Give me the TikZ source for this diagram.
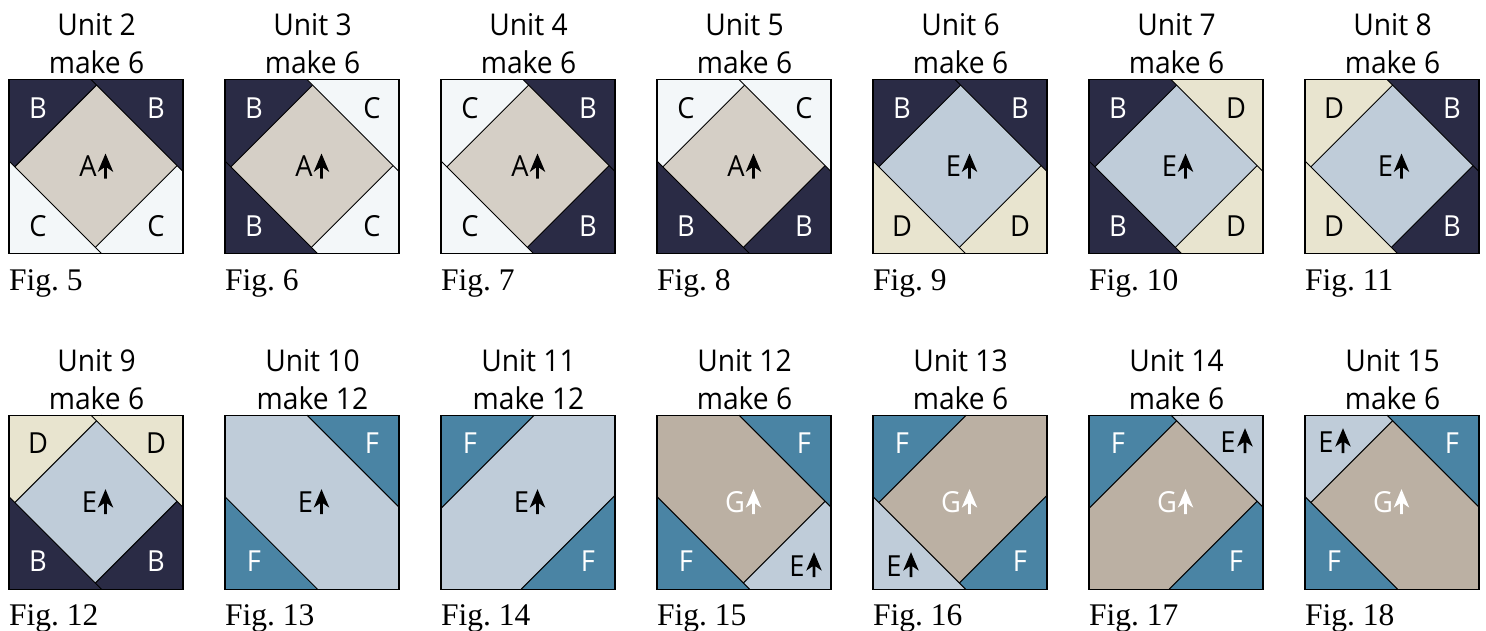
\documentclass[tikz,border=0pt]{standalone}
\usepackage{fontspec}
\setmainfont{Open Sans}[FakeStretch=0.94]
\newfontfamily\figfont{Liberation Serif}
\frenchspacing
\definecolor{cB}{HTML}{2A2B45}
\definecolor{cA}{HTML}{D5CFC6}
\definecolor{cC}{HTML}{F3F7F9}
\definecolor{cD}{HTML}{E8E4CF}
\definecolor{cE}{HTML}{BFCCD9}
\definecolor{cF}{HTML}{4A84A4}
\definecolor{cG}{HTML}{BBB0A3}
\tikzset{
  seam/.style={black,line width=1pt},
  border/.style={black,line width=1.4pt},
  title/.style={anchor=base,inner sep=0pt,font=\frenchspacing\fontsize{30}{30}\selectfont,text=black},
  figlabel/.style={anchor=base west,inner sep=0pt,font=\frenchspacing\figfont\fontsize{31.5}{31.5}\selectfont,text=black},
  patch/.style={anchor=base,inner sep=0pt,font=\fontsize{29}{29}\selectfont}
}
\newcount\labn
\newcommand\lab[4]{\global\advance\labn by 1
  \node[patch,text=#3] (l\the\labn) at (#1,#2+10.5) {#4};}
\newcommand\arr[3]{%
  \fill[#3] (#1,#2) -- (#1+7.8,#2+18.5) -- (#1+1.3,#2+14) -- (#1+1.3,#2+25) -- (#1-1.3,#2+25) -- (#1-1.3,#2+14) -- (#1-7.8,#2+18.5) -- cycle;}
\newcommand\pTL[1]{\fill[#1] (0,0)--(93.2,0)--(0,93.2)--cycle; \draw[seam] (93.2,0)--(0,93.2);}
\newcommand\pBR[1]{\fill[#1] (174,80.2)--(174,174)--(80.2,174)--cycle; \draw[seam] (174,80.2)--(80.2,174);}
\newcommand\pTR[1]{\fill[#1] (82,0)--(174,0)--(174,92)--cycle; \draw[seam] (82,0)--(174,92);}
\newcommand\pBL[1]{\fill[#1] (0,81.5)--(0,174)--(92.5,174)--cycle; \draw[seam] (0,81.5)--(92.5,174);}
% centre label + arrow
\newcommand\ctr[3]{\lab{#1}{86.5}{#3}{#2}\arr{96.5}{74}{#3}}
% corner labels with letter
\newcommand\corn[4]{\lab{#1}{#2}{#3}{#4}}
% corner label E with arrow: x of letter, y
\newcommand\cornE[2]{\lab{#1}{#2}{black}{E}\arr{#1+17}{#2-14}{black}}
\newcommand\qunit[7]{%
  \begin{scope}[shift={(#1,#2)}]
    \fill[#6] (0,0) rectangle (174,174);
    #7
    \draw[border] (0,0) rectangle (174,174);
    \node[title] (u#3a) at (87.5,-44) {Unit #3};
    \node[title] (u#3b) at (87.5,-6) {make #4};
    \node[figlabel] (u#3c) at (0,210.5) {Fig. #5};
  \end{scope}}
\begin{document}
\begin{tikzpicture}[x=1pt,y=-1pt]
\useasboundingbox (0,0) rectangle (1486,630);
\def\rowa{79.5}
\def\rowb{415.2}
\qunit{9}{\rowa}{2}{6}{5}{cA}{\pTL{cB}\pBR{cC}\pTR{cB}\pBL{cC}
  \corn{29}{28}{white}{B}\corn{147}{28}{white}{B}\corn{29}{146}{black}{C}\corn{147}{146}{black}{C}\ctr{79}{A}{black}}
\qunit{225}{\rowa}{3}{6}{6}{cA}{\pTL{cB}\pBR{cC}\pTR{cC}\pBL{cB}
  \corn{29}{28}{white}{B}\corn{147}{28}{black}{C}\corn{29}{146}{white}{B}\corn{147}{146}{black}{C}\ctr{79}{A}{black}}
\qunit{441}{\rowa}{4}{6}{7}{cA}{\pTL{cC}\pBR{cB}\pTR{cB}\pBL{cC}
  \corn{29}{28}{black}{C}\corn{147}{28}{white}{B}\corn{29}{146}{black}{C}\corn{147}{146}{white}{B}\ctr{79}{A}{black}}
\qunit{657}{\rowa}{5}{6}{8}{cA}{\pTL{cC}\pBR{cB}\pTR{cC}\pBL{cB}
  \corn{29}{28}{black}{C}\corn{147}{28}{black}{C}\corn{29}{146}{white}{B}\corn{147}{146}{white}{B}\ctr{79}{A}{black}}
\qunit{873}{\rowa}{6}{6}{9}{cE}{\pTL{cB}\pBR{cD}\pTR{cB}\pBL{cD}
  \corn{29}{28}{white}{B}\corn{147}{28}{white}{B}\corn{29}{146}{black}{D}\corn{147}{146}{black}{D}\ctr{80.5}{E}{black}}
\qunit{1089}{\rowa}{7}{6}{10}{cE}{\pTL{cB}\pBR{cD}\pTR{cD}\pBL{cB}
  \corn{29}{28}{white}{B}\corn{147}{28}{black}{D}\corn{29}{146}{white}{B}\corn{147}{146}{black}{D}\ctr{80.5}{E}{black}}
\qunit{1305}{\rowa}{8}{6}{11}{cE}{\pTL{cD}\pBR{cB}\pTR{cB}\pBL{cD}
  \corn{29}{28}{black}{D}\corn{147}{28}{white}{B}\corn{29}{146}{black}{D}\corn{147}{146}{white}{B}\ctr{80.5}{E}{black}}
\qunit{9}{\rowb}{9}{6}{12}{cE}{\pTL{cD}\pBR{cB}\pTR{cD}\pBL{cB}
  \corn{29}{28}{black}{D}\corn{147}{28}{black}{D}\corn{29}{146}{white}{B}\corn{147}{146}{white}{B}\ctr{80.5}{E}{black}}
\qunit{225}{\rowb}{10}{12}{13}{cE}{\pTR{cF}\pBL{cF}
  \corn{147}{28}{white}{F}\corn{29}{146}{white}{F}\ctr{80.5}{E}{black}}
\qunit{441}{\rowb}{11}{12}{14}{cE}{\pTL{cF}\pBR{cF}
  \corn{29}{28}{white}{F}\corn{147}{146}{white}{F}\ctr{80.5}{E}{black}}
\qunit{657}{\rowb}{12}{6}{15}{cG}{\pBR{cE}\pTR{cF}\pBL{cF}
  \corn{147}{28}{white}{F}\corn{29}{146}{white}{F}\cornE{140}{151}\ctr{78}{G}{white}}
\qunit{873}{\rowb}{13}{6}{16}{cG}{\pTL{cF}\pBR{cF}\pBL{cE}
  \corn{29}{28}{white}{F}\corn{147}{146}{white}{F}\cornE{21}{151}\ctr{78}{G}{white}}
\qunit{1089}{\rowb}{14}{6}{17}{cG}{\pTL{cF}\pBR{cF}\pTR{cE}
  \corn{29}{28}{white}{F}\corn{147}{146}{white}{F}\cornE{139}{27}\ctr{78}{G}{white}}
\qunit{1305}{\rowb}{15}{6}{18}{cG}{\pTL{cE}\pTR{cF}\pBL{cF}
  \corn{147}{28}{white}{F}\corn{29}{146}{white}{F}\cornE{21}{27}\ctr{78}{G}{white}}
\end{tikzpicture}
\end{document}
